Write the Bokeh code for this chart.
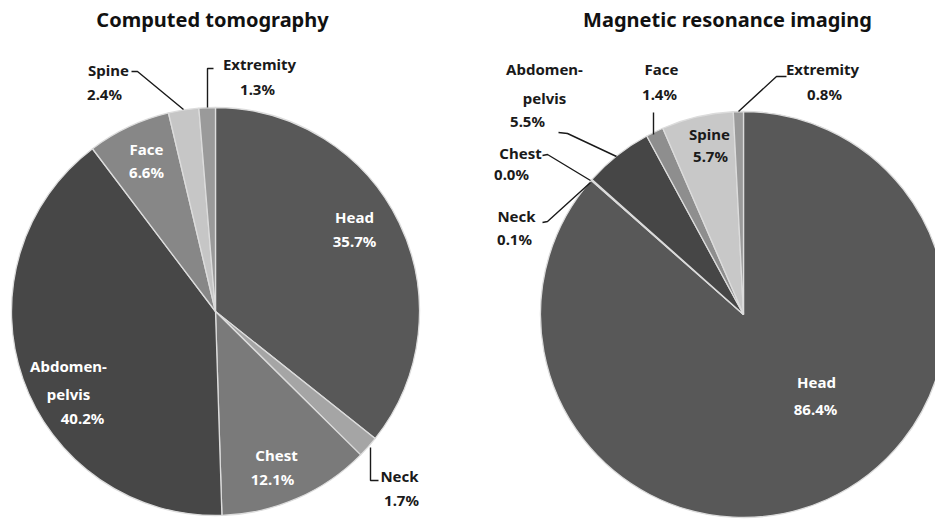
import math
from bokeh.plotting import figure
from bokeh.models import Range1d, ColumnDataSource
from bokeh.core.properties import value
from bokeh.embed import file_html
from bokeh.resources import INLINE

# ---------------- data ----------------
categories = ["Head", "Neck", "Chest", "Abdomen-pelvis", "Face", "Spine", "Extremity"]
ct_values = [35.7, 1.7, 12.1, 40.2, 6.6, 2.4, 1.3]
mri_values = [86.4, 0.1, 0.0, 5.5, 1.4, 5.7, 0.8]
titles = ["Computed tomography", "Magnetic resonance imaging"]

# ---------------- styles / layout ----------------
ct_colors = ["#585858", "#a5a5a5", "#7a7a7a", "#474747", "#878787", "#c6c6c6", "#9a9a9a"]
mri_colors = ["#585858", "#7a7a7a", "#7a7a7a", "#464646", "#8e8e8e", "#c8c8c8", "#9a9a9a"]
FONT = "Noto Sans"
FW, FH = 935, 519  # figure size == screen pixel space; data y = FH - screen y

def sy(y):
    return FH - y

# label layout per chart, screen coordinates: list of (x, y) for each line, colour
ct_label_pos = {
    "Head": ([(354, 216), (354, 240)], "white"),
    "Neck": ([(399, 475), (401, 499)], "#1a1a1a"),
    "Chest": ([(276, 454), (272, 478)], "white"),
    "Abdomen-pelvis": ([(68, 365), (68, 393), (82, 417)], "white"),
    "Face": ([(146, 148), (146, 171)], "white"),
    "Spine": ([(108, 69), (104, 93)], "#1a1a1a"),
    "Extremity": ([(259, 63), (257, 88)], "#1a1a1a"),
}
mri_label_pos = {
    "Head": ([(816, 381), (815, 408)], "white"),
    "Neck": ([(516, 215), (514, 238)], "#1a1a1a"),
    "Chest": ([(520, 152), (511, 173)], "#1a1a1a"),
    "Abdomen-pelvis": ([(544, 68), (544, 97), (527, 120)], "#1a1a1a"),
    "Face": ([(661, 68), (659, 93)], "#1a1a1a"),
    "Spine": ([(709, 133), (710, 155)], "#1a1a1a"),
    "Extremity": ([(822, 68), (824, 93)], "#1a1a1a"),
}
ct_leaders = [
    [(131, 71), (137, 71), (183, 109)],
    [(213, 68), (207, 68), (207, 107)],
    [(370, 447), (370, 480), (378, 480)],
]
mri_leaders = [
    [(653, 112), (653, 134)],
    [(786, 76), (776, 76), (738, 111)],
    [(558, 132), (567, 133), (616, 156)],
    [(542, 155), (547, 154), (590, 180)],
    [(542, 222), (547, 221), (590, 182)],
]
charts = [
    dict(values=ct_values, colors=ct_colors, center=(215, 311), r=204,
         labels=ct_label_pos, leaders=ct_leaders, title_pos=(212, 19)),
    dict(values=mri_values, colors=mri_colors, center=(743, 314), r=203,
         labels=mri_label_pos, leaders=mri_leaders, title_pos=(727, 19)),
]

p = figure(width=FW, height=FH, x_range=Range1d(0, FW), y_range=Range1d(0, FH),
           output_backend="svg", toolbar_location=None, min_border=0)
p.axis.visible = False
p.grid.visible = False
p.outline_line_color = None
p.background_fill_color = "white"

for ch, title in zip(charts, titles):
    vals = ch["values"]
    total = sum(vals)
    starts, ends, cols = [], [], []
    cum = 0.0
    for v, c in zip(vals, ch["colors"]):
        if v > 0:
            starts.append(math.pi / 2 - 2 * math.pi * (cum + v) / total)
            ends.append(math.pi / 2 - 2 * math.pi * cum / total)
            cols.append(c)
        cum += v
    cx, cy = ch["center"]
    src = ColumnDataSource(dict(x=[cx] * len(cols), y=[sy(cy)] * len(cols),
                                start=starts, end=ends, color=cols))
    p.wedge(x="x", y="y", radius=ch["r"], radius_units="screen", start_angle="start",
            end_angle="end", fill_color="color", line_color="#dcdcdc", line_width=1.3,
            source=src)

    # labels
    tx, ty, tt, tc = [], [], [], []
    for cat, v in zip(categories, vals):
        pos, col = ch["labels"][cat]
        if "-" in cat:
            a, b = cat.split("-", 1)
            lines = [a + "-", b]
        else:
            lines = [cat]
        lines.append(f"{v:.1f}%")
        for (x, y), t in zip(pos, lines):
            tx.append(x); ty.append(sy(y)); tt.append(t); tc.append(col)
    p.text(x=tx, y=ty, text=tt, text_color=tc, text_font=value(FONT),
           text_font_style="bold", text_font_size="15px", text_align="center",
           text_baseline="middle")

    # leader lines
    xs = [[pt[0] for pt in ln] for ln in ch["leaders"]]
    ys = [[sy(pt[1]) for pt in ln] for ln in ch["leaders"]]
    p.multi_line(xs=xs, ys=ys, line_color="#1a1a1a", line_width=1.4)

    # title
    p.text(x=[ch["title_pos"][0]], y=[sy(ch["title_pos"][1])], text=[title],
           text_color="#111111", text_font=value(FONT), text_font_style="bold",
           text_font_size="20px", text_align="center", text_baseline="middle")

open("out.html", "w").write(file_html(p, INLINE))
